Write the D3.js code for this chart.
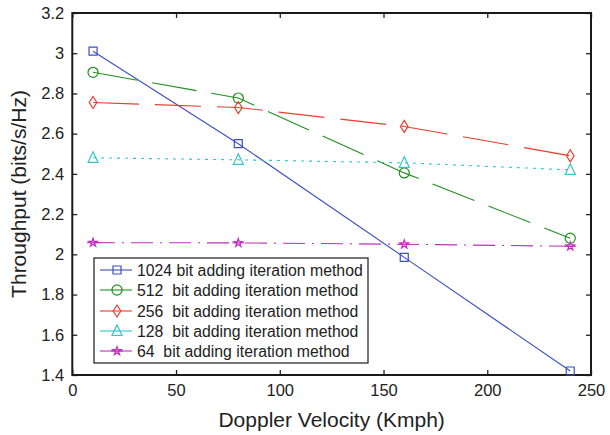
<!DOCTYPE html>
<html><head><meta charset="utf-8">
<script src="https://cdn.jsdelivr.net/npm/d3@7"></script>
<style>body{margin:0;background:#fff}svg{display:block}text{font-family:"Liberation Sans",Arial,sans-serif;fill:#222}</style>
</head><body>
<svg id="c" width="610" height="435"></svg>
<script>
const velocities = [10, 80, 160, 240];
const s1024 = [3.01, 2.55, 1.985, 1.42];
const s512 = [2.905, 2.777, 2.405, 2.08];
const s256 = [2.755, 2.73, 2.636, 2.49];
const s128 = [2.48, 2.47, 2.455, 2.42];
const s64 = [2.058, 2.057, 2.05, 2.04];
const seriesNames = ["1024 bit adding iteration method","512  bit adding iteration method","256  bit adding iteration method","128  bit adding iteration method","64  bit adding iteration method"];
const xTicks = [0,50,100,150,200,250];
const yTicks = [1.4,1.6,1.8,2,2.2,2.4,2.6,2.8,3,3.2];

const series = [
 {name:seriesNames[0], v:s1024, color:"#3b4fc4", dash:null, marker:"square"},
 {name:seriesNames[1], v:s512, color:"#1f8f1f", dash:"45,15", marker:"circle"},
 {name:seriesNames[2], v:s256, color:"#ec3b2f", dash:"46,16", marker:"diamond"},
 {name:seriesNames[3], v:s128, color:"#2ec6c6", dash:"3,5", marker:"triangle"},
 {name:seriesNames[4], v:s64, color:"#bf2fbf", dash:"22,7,2,7", marker:"star"}
];

const svg = d3.select("#c");
const L=72.3,R=591,T=13,B=375;
const x = d3.scaleLinear().domain([0,250]).range([L,R]);
const y = d3.scaleLinear().domain([1.4,3.2]).range([B,T]);

const g = svg.append("g");
g.append("g").attr("transform",`translate(0,${B})`).call(d3.axisBottom(x).tickValues(xTicks).tickSize(-5).tickPadding(9).tickFormat(d3.format("d")));
g.append("g").attr("transform",`translate(0,${T})`).call(d3.axisTop(x).tickValues(xTicks).tickSize(-5).tickFormat(""));
g.append("g").attr("transform",`translate(${L},0)`).call(d3.axisLeft(y).tickValues(yTicks).tickSize(-5).tickPadding(8).tickFormat(d=>String(+d.toFixed(1))));
g.append("g").attr("transform",`translate(${R},0)`).call(d3.axisRight(y).tickValues(yTicks).tickSize(-5).tickFormat(""));
g.selectAll(".domain").remove();
g.selectAll(".tick line").attr("stroke","#222").attr("stroke-width",1.3);
g.selectAll(".tick text").style("font-size","16.5px").attr("fill","#222");
svg.append("rect").attr("x",L).attr("y",T).attr("width",R-L).attr("height",B-T).attr("fill","none").attr("stroke","#1a1a1a").attr("stroke-width",2);

const line = d3.line().x((d,i)=>x(velocities[i])).y(d=>y(d));
function marker(sel, type, color){
  const p = {
    square: d3.symbol(d3.symbolSquare, 64)(),
    circle: d3.symbol(d3.symbolCircle, 80)(),
    diamond: "M0,-6L3.8,0L0,6L-3.8,0Z",
    triangle: "M0,-6L5,4.5L-5,4.5Z",
    star: d3.symbol(d3.symbolStar, 22)()
  }[type];
  sel.append("path").attr("d",p).attr("fill","none").attr("stroke",color).attr("stroke-width",1.2);
}
series.forEach(s=>{
  svg.append("path").datum(s.v).attr("d",line).attr("fill","none").attr("stroke",s.color).attr("stroke-width",1.1)
    .attr("stroke-dasharray",s.dash);
  s.v.forEach((d,i)=>{
    const m = svg.append("g").attr("transform",`translate(${x(velocities[i])},${y(d)})`);
    marker(m,s.marker,s.color);
    if(s.marker==="star") m.append("line").attr("x1",-6).attr("x2",6).attr("stroke",s.color).attr("stroke-width",1.1);
  });
});

const lg = svg.append("g");
lg.append("rect").attr("x",94).attr("y",258).attr("width",274).attr("height",105).attr("fill","#fff").attr("stroke","#1a1a1a").attr("stroke-width",1.2);
const rowY = [270,290,311,331,351];
series.forEach((s,i)=>{
  const r = lg.append("g").attr("transform",`translate(0,${rowY[i]})`);
  r.append("line").attr("x1",100).attr("x2",132).attr("stroke",s.color).attr("stroke-width",1.1);
  const m = r.append("g").attr("transform","translate(117,0)");
  marker(m,s.marker,s.color);
  if(s.marker==="star") m.append("line").attr("x1",-6).attr("x2",6).attr("stroke",s.color).attr("stroke-width",1.1);
  r.append("text").attr("x",137).attr("y",5.5).style("font-size","15.8px").style("white-space","pre").attr("xml:space","preserve").text(s.name);
});

svg.append("text").attr("x",(L+R)/2).attr("y",427).attr("text-anchor","middle").style("font-size","21px").text("Doppler Velocity (Kmph)");
svg.append("text").attr("transform",`translate(26,${(T+B)/2}) rotate(-90)`).attr("text-anchor","middle").style("font-size","21px").text("Throughput (bits/s/Hz)");
</script>
</body></html>
